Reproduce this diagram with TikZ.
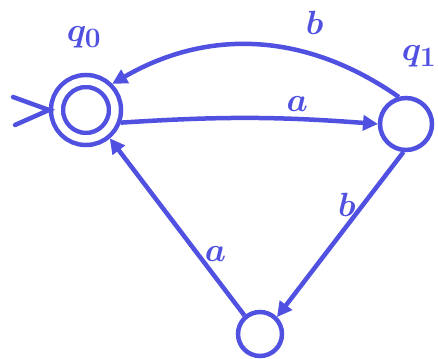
\documentclass[tikz,border=0pt]{standalone}
\usepackage{xcolor}
\usetikzlibrary{arrows.meta}
\definecolor{penblue}{RGB}{80, 80, 225}

\begin{document}
\begin{tikzpicture}[
  x=1pt, y=-1pt,
  state/.style={circle, draw=penblue, line width=4.5pt, inner sep=0pt},
  accept/.style={double=white, double distance=7.5pt},
  edge/.style={draw=penblue, line width=4.5pt, -{Triangle[length=15pt, width=15pt]}},
  lbl/.style={text=penblue, font=\Huge\boldmath, scale=1.35, transform shape}
]
\useasboundingbox (0,0) rectangle (438,358);

% states
\node[state, accept, minimum size=58pt, outer sep=8pt] (q0) at (86,110) {};
\node[state, minimum size=52pt, outer sep=2pt] (q1) at (406,124) {};
\node[state, minimum size=44pt, outer sep=2pt] (q2) at (260,334) {};

% state names
\node[lbl, anchor=west] (n0) at (62,37) {$q_0$};
\node[lbl, anchor=east, inner sep=1pt] (n1) at (438,56) {$q_1$};

% start arrow
\coordinate (s1) at (13,97);
\coordinate (s2) at (15,125);
\draw[draw=penblue, line width=4.5pt, line cap=round] (s1) -- (q0.west) -- (s2);

% transitions
\draw[edge] (q0.-20) to[bend left=4] node[lbl, pos=0.7, above] {$a$} (q1.180);
\draw[edge] (q1.105) to[out=145, in=30] node[lbl, pos=0.3, above=10pt] {$b$} (q0.45);
\draw[edge] (q1.-95) -- node[lbl, pos=0.32, left] {$b$} (q2.45);
\draw[edge] (q2.130) -- node[lbl, pos=0.35, right] {$a$} (q0.-50);

\end{tikzpicture}
\end{document}
